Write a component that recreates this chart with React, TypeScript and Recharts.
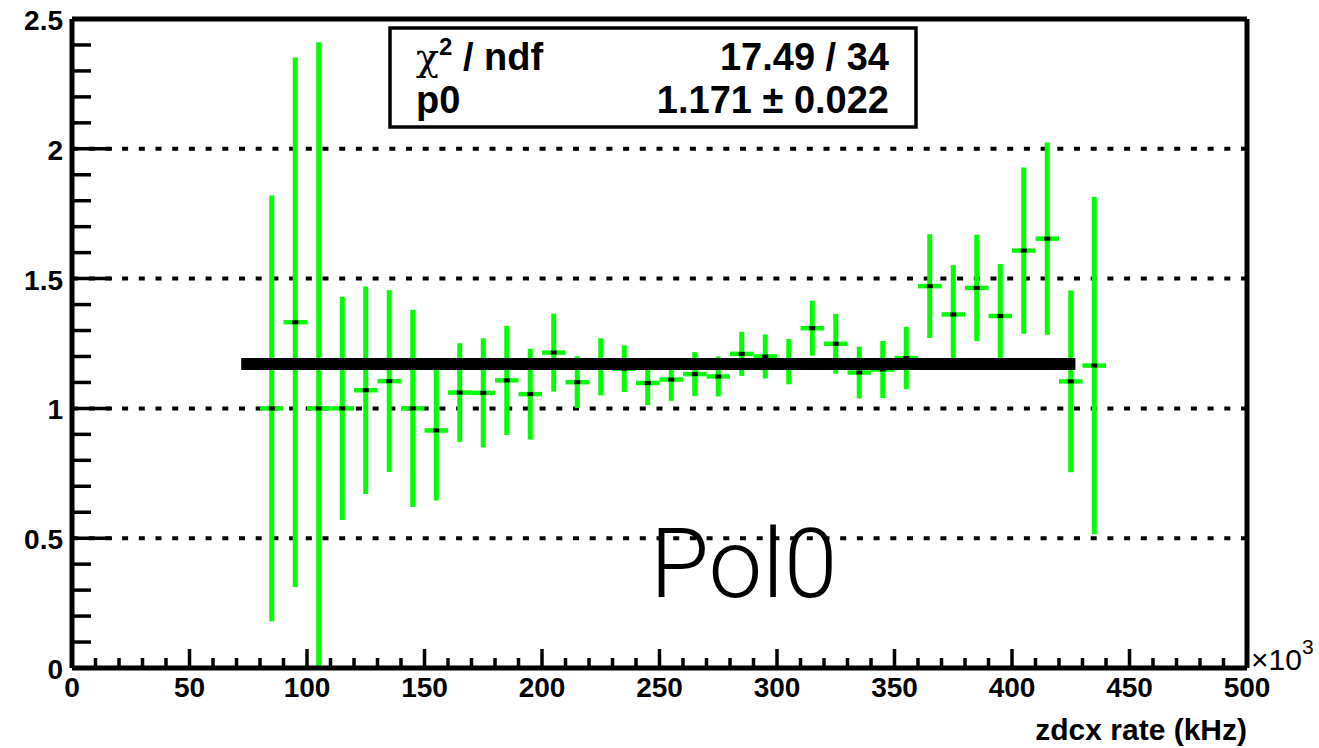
import React from "react";
import { ComposedChart, Scatter, ErrorBar, Line, XAxis, YAxis, ReferenceLine } from "recharts";

// bin centres (x10^3 kHz), measured ratio and its error
const binCenters = [
  85, 95, 105, 115, 125, 135, 145, 155, 165, 175, 185, 195, 205, 215, 225, 235, 245, 255,
  265, 275, 285, 295, 305, 315, 325, 335, 345, 355, 365, 375, 385, 395, 405, 415, 425, 435,
];
const ratios = [
  1.0, 1.332, 1.0, 1.0, 1.07, 1.105, 1.0, 0.915, 1.061, 1.06, 1.108, 1.055, 1.215, 1.101,
  1.16, 1.153, 1.098, 1.111, 1.132, 1.123, 1.21, 1.2, 1.18, 1.309, 1.249, 1.138, 1.15, 1.194,
  1.471, 1.362, 1.464, 1.356, 1.608, 1.654, 1.104, 1.165,
];
const ratioErrors = [
  0.82, 1.02, 1.41, 0.43, 0.4, 0.35, 0.38, 0.27, 0.19, 0.21, 0.21, 0.175, 0.15, 0.1, 0.11,
  0.09, 0.085, 0.082, 0.085, 0.077, 0.085, 0.085, 0.087, 0.106, 0.115, 0.1, 0.11, 0.12, 0.2,
  0.19, 0.205, 0.2, 0.32, 0.37, 0.35, 0.65,
];
const binHalfWidth = 5;

// pol0 fit
const fitValue = 1.171;
const fitRange = [72, 427];
const chi2Text = "17.49 / 34";
const p0Text = "1.171 \u00b1 0.022";

const xTicks = Array.from({ length: 51 }, (_, i) => i * 10);
const yTicks = Array.from({ length: 26 }, (_, i) => i / 10);
const gridValues = [0.5, 1, 1.5, 2];

const FONT = "'Liberation Sans', Arial, Helvetica, sans-serif";
const GREEN = "#00ff00";

const data = binCenters.map((x, i) => ({ x, y: ratios[i], ey: ratioErrors[i], ex: binHalfWidth }));
const fitData = fitRange.map((x) => ({ x, fit: fitValue }));

function XTick(props: any) {
  const { x, y, payload } = props;
  const v = payload.value;
  const major = v % 50 === 0;
  return (
    <g>
      <line x1={x} x2={x} y1={y} y2={y - (major ? 19 : 10)} stroke="#000" strokeWidth={3.5} />
      {major && (
        <text x={x} y={y + 29} textAnchor="middle" fontFamily={FONT} fontWeight="bold" fontSize={28} fill="#000">
          {v}
        </text>
      )}
    </g>
  );
}

function YTick(props: any) {
  const { x, y, payload } = props;
  const v = payload.value;
  const major = Math.abs(v * 2 - Math.round(v * 2)) < 1e-6;
  return (
    <g>
      <line x1={x} x2={x + (major ? 40 : 19)} y1={y} y2={y} stroke="#000" strokeWidth={3.5} />
      {major && (
        <text x={x - 9} y={y + 11} textAnchor="end" fontFamily={FONT} fontWeight="bold" fontSize={28} fill="#000">
          {String(Math.round(v * 10) / 10)}
        </text>
      )}
    </g>
  );
}

function Marker(props: any) {
  const { cx, cy } = props;
  return <rect x={cx - 3} y={cy - 2} width={6} height={4} fill="#000" />;
}

// clip error bars to the frame, as ROOT does
const clipCss =
  ".recharts-errorBars, .recharts-errorBar, .recharts-scatter { clip-path: url(#plotClip); }";

export default function App() {
  return (
    <div style={{ position: "absolute", left: 0, top: 0, width: 1319, height: 748, background: "#fff" }}>
      <style>{clipCss}</style>
      <svg width={1} height={1} style={{ position: "absolute", left: 0, top: 0 }}>
        <defs>
          <clipPath id="plotClip" clipPathUnits="userSpaceOnUse">
            <rect x={72} y={19} width={1175} height={649} />
          </clipPath>
        </defs>
      </svg>
      <ComposedChart width={1319} height={748} margin={{ top: 19, right: 72, bottom: 20, left: 12 }}>
        <XAxis
          type="number"
          dataKey="x"
          domain={[0, 500]}
          ticks={xTicks}
          interval={0}
          height={60}
          tickSize={0}
          tickMargin={0}
          tickLine={false}
          tick={XTick}
          axisLine={{ stroke: "#000", strokeWidth: 5 }}
          allowDataOverflow
        />
        <YAxis
          type="number"
          dataKey="y"
          domain={[0, 2.5]}
          ticks={yTicks}
          interval={0}
          width={60}
          tickSize={0}
          tickMargin={0}
          tickLine={false}
          tick={YTick}
          axisLine={{ stroke: "#000", strokeWidth: 5 }}
          allowDataOverflow
        />
        {gridValues.map((v) => (
          <ReferenceLine key={v} y={v} stroke="#000" strokeWidth={4} strokeDasharray="6 10.7" />
        ))}
        <ReferenceLine y={2.5} stroke="#000" strokeWidth={5} />
        <ReferenceLine x={500} stroke="#000" strokeWidth={5} />
        <Scatter className="pol0-points" data={data} dataKey="y" shape={Marker} isAnimationActive={false}>
          <ErrorBar dataKey="ey" direction="y" width={0} stroke={GREEN} strokeWidth={5} isAnimationActive={false} />
          <ErrorBar dataKey="ex" direction="x" width={0} stroke={GREEN} strokeWidth={4.5} isAnimationActive={false} />
        </Scatter>
        <Line
          data={fitData}
          dataKey="fit"
          stroke="#000"
          strokeWidth={12}
          dot={false}
          activeDot={false}
          isAnimationActive={false}
          zIndex={700}
        />
      </ComposedChart>
      <svg width={1319} height={748} style={{ position: "absolute", left: 0, top: 0, pointerEvents: "none" }}>
        <rect x={390} y={28} width={526} height={99} fill="#fff" stroke="#000" strokeWidth={3.5} />
        <text x={416} y={70} fontFamily={FONT} fontWeight="bold" fontSize={38} fill="#000">
          <tspan fontFamily="'DejaVu Serif', serif" fontWeight="normal">{"\u03c7"}</tspan>
          <tspan dy={-15} fontSize={24}>2</tspan>
          <tspan dy={15}>{" / ndf"}</tspan>
        </text>
        <text x={889} y={70} textAnchor="end" fontFamily={FONT} fontWeight="bold" fontSize={38} fill="#000">
          {chi2Text}
        </text>
        <text x={416} y={113} fontFamily={FONT} fontWeight="bold" fontSize={38} fill="#000">
          p0
        </text>
        <text x={889} y={113} textAnchor="end" fontFamily={FONT} fontWeight="bold" fontSize={38} fill="#000">
          {p0Text}
        </text>
        <text x={650} y={597} fontFamily="Roboto, 'Liberation Sans', sans-serif" fontWeight={300} fontSize={96} fill="#000">
          Pol0
        </text>
        <text x={1251} y={670} fontFamily={FONT} fontSize={30} fill="#000">
          {"\u00d710"}
          <tspan dy={-16} fontSize={21}>3</tspan>
        </text>
        <text x={1247} y={740} textAnchor="end" fontFamily={FONT} fontWeight="bold" fontSize={30} fill="#000">
          zdcx rate (kHz)
        </text>
      </svg>
    </div>
  );
}
